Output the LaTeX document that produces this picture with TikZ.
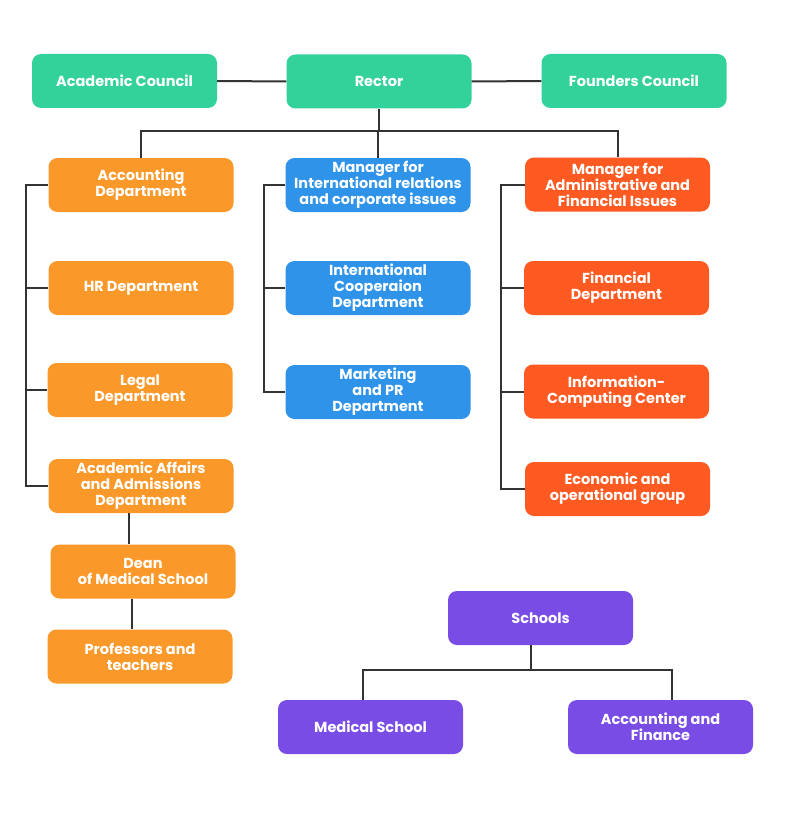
\documentclass[tikz,border=0pt]{standalone}
\usepackage{fontspec}
\setmainfont{Poppins}
\usetikzlibrary{calc}
\definecolor{boardgreen}{HTML}{33D29A}
\definecolor{deptorange}{HTML}{FB982A}
\definecolor{intlblue}{HTML}{2E93E9}
\definecolor{finred}{HTML}{FE5A22}
\definecolor{schoolpurple}{HTML}{794CE6}
\definecolor{linkgray}{HTML}{333333}
\tikzset{
  unit/.style={rounded corners=9pt, minimum width=185pt, minimum height=54pt,
    inner sep=0pt, align=center, text=white, font=\fontsize{14.5}{16}\selectfont\bfseries},
  link/.style={line width=2pt, color=linkgray}
}

\begin{document}
\begin{tikzpicture}[x=1pt,y=-1pt]
		%%%%% START %%%%%
		\useasboundingbox (0,0) rectangle (787,840);
		
		\node[unit, fill=boardgreen] (acouncil) at (124.5, 81) {Academic Council};
		\node[unit, fill=boardgreen] (rector) at (379, 81.5) {Rector};
		\node[unit, fill=boardgreen] (fcouncil) at (634, 81) {Founders Council};
		
		\node[unit, fill=deptorange] (accdep) at (141, 185) {Accounting\\Department};
		\node[unit, fill=deptorange] (hrdep) at (141, 288) {HR Department};
		\node[unit, fill=deptorange] (legaldep) at (140, 390) {Legal\\Department};
		\node[unit, fill=deptorange] (admdep) at (141, 486) {Academic Affairs\\and Admissions\\Department};
		\node[unit, fill=deptorange] (dean) at (143, 571.5) {Dean\\of Medical School};
		\node[unit, fill=deptorange] (profs) at (140, 656.5) {Professors and\\teachers};
		
		\node[unit, fill=intlblue] (intlmgr) at (378, 185) {Manager for\\International relations\\and corporate issues};
		\node[unit, fill=intlblue] (coopdep) at (378, 288) {International\\Cooperaion\\Department};
		\node[unit, fill=intlblue] (prdep) at (378, 392) {Marketing\\and PR\\Department};
		
		\node[unit, fill=finred] (finmgr) at (617.5, 184.5) {Manager for\\Administrative and\\Financial Issues};
		\node[unit, fill=finred] (findep) at (616.5, 288) {Financial\\Department};
		\node[unit, fill=finred] (infocen) at (616.5, 391.5) {Information-\\Computing Center};
		\node[unit, fill=finred] (ecogroup) at (617.5, 489) {Economic and\\operational group};
		
		\node[unit, fill=schoolpurple] (schools) at (540.5, 618) {Schools};
		\node[unit, fill=schoolpurple] (medschool) at (370.5, 727) {Medical School};
		\node[unit, fill=schoolpurple] (accfin) at (660.5, 727) {Accounting and\\Finance};
		
		% bus and spines
		\coordinate (topbus) at (379, 131);
		\coordinate (lspine) at (26, 0);
		\coordinate (mspine) at (264, 0);
		\coordinate (rspine) at (501, 0);
		\coordinate (schbus) at (531, 670);
		
		\draw[link] (acouncil.east) -- (rector.west);
		\draw[link] (rector.east) -- (fcouncil.west);
		\draw[link] (rector.south) -- (topbus);
		\draw[link] (accdep.north) -- (accdep.north |- topbus) -- (finmgr.north |- topbus) -- (finmgr.north);
		\draw[link] (intlmgr.north) -- (intlmgr.north |- topbus);
		
		\draw[link] (accdep.west) -- (accdep.west -| lspine) -- (admdep.west -| lspine) -- (admdep.west);
		\draw[link] (hrdep.west) -- (hrdep.west -| lspine);
		\draw[link] (legaldep.west) -- (legaldep.west -| lspine);
		\draw[link] (admdep.south -| 129, 0) -- (dean.north -| 129, 0);
		\draw[link] (dean.south -| 132, 0) -- (profs.north -| 132, 0);
		
		\draw[link] (intlmgr.west) -- (intlmgr.west -| mspine) -- (prdep.west -| mspine) -- (prdep.west);
		\draw[link] (coopdep.west) -- (coopdep.west -| mspine);
		
		\draw[link] (finmgr.west) -- (finmgr.west -| rspine) -- (ecogroup.west -| rspine) -- (ecogroup.west);
		\draw[link] (findep.west) -- (findep.west -| rspine);
		\draw[link] (infocen.west) -- (infocen.west -| rspine);
		
		\draw[link] (schools.south -| schbus) -- (schbus);
		\draw[link] (medschool.north -| 363, 0) -- (schbus -| 363, 0) -- (schbus -| 672, 0) -- (accfin.north -| 672, 0);
		%%%%% END %%%%%
\end{tikzpicture}
\end{document}
